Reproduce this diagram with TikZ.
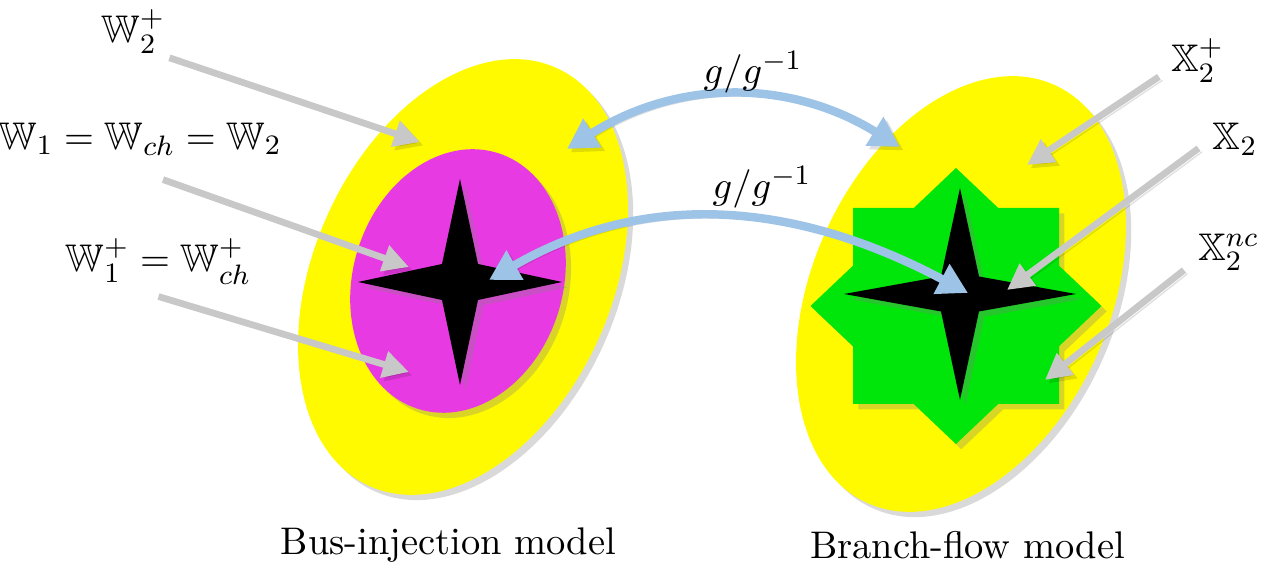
\documentclass[tikz,border=0pt,11pt]{standalone}
\usepackage{xcolor}
\usepackage{amssymb}
\usetikzlibrary{arrows.meta, calc, shapes.geometric, shadows}

\definecolor{setYellow}{RGB}{255,250,0}
\definecolor{setMagenta}{RGB}{232,58,226}
\definecolor{setGreen}{RGB}{0,230,10}
\definecolor{mapBlue}{RGB}{157,195,230}
\definecolor{pointGray}{RGB}{200,200,200}

\begin{document}
\begin{tikzpicture}[>={Triangle[length=3mm, width=3.2mm]}, every node/.style={inner sep=1pt},
  region/.style={drop shadow={shadow xshift=1.5pt, shadow yshift=-1.5pt, opacity=0.3}},
  oval/.style={ellipse, region, inner sep=0pt, minimum width=#1},
  pointer/.style={-{Triangle[length=2.6mm, width=2.6mm]}, draw=pointGray, line width=1.9pt,
    preaction={draw=black, opacity=0.12, transform canvas={xshift=1pt, yshift=-1pt}}},
  mapping/.style={<->, draw=mapBlue, line width=2.4pt,
    preaction={draw=black, opacity=0.12, transform canvas={xshift=1pt, yshift=-1pt}}}]
  \useasboundingbox (0,0) rectangle (12.63,5.63);
  \node[oval=2.98cm, minimum height=4.58cm, fill=setYellow, rotate=-24] (busOuter) at (4.63,2.86) {};
  \node[oval=2.10cm, minimum height=2.68cm, fill=setMagenta, rotate=-17] (busInner) at (4.58,2.82) {};
  \fill[black, region, shift={(4.60,2.81)}] (0,1.03) -- (0.18,0.18) -- (1.02,0) -- (0.18,-0.18) -- (0,-1.03) -- (-0.18,-0.18) -- (-1.02,0) -- (-0.18,0.18) -- cycle;
  \node[oval=2.98cm, minimum height=4.58cm, fill=setYellow, rotate=-24] (flowOuter) at (9.61,2.69) {};
  \fill[setGreen, region, shift={(9.56,2.57)}] (-1.03,-0.98) -- (-1.03,0.98) -- (1.03,0.98) -- (1.03,-0.98) -- cycle (-1.455,0) -- (0,1.38) -- (1.455,0) -- (0,-1.38) -- cycle;
  \fill[black, region, shift={(9.60,2.69)}] (0,1.06) -- (0.19,0.175) -- (1.16,0) -- (0.19,-0.175) -- (0,-1.06) -- (-0.19,-0.175) -- (-1.16,0) -- (-0.19,0.175) -- cycle;

  \coordinate (tipW2p) at (4.20,4.21);
  \coordinate (tipW1) at (4.09,2.96);
  \coordinate (tipW1p) at (4.09,1.91);
  \coordinate (tipX2p) at (10.27,3.98);
  \coordinate (tipX2) at (10.07,2.73);
  \coordinate (tipX2nc) at (10.45,1.83);
  \coordinate (busSet) at (5.67,4.14);
  \coordinate (flowSet) at (9.00,4.16);
  \coordinate (busCore) at (4.89,2.83);
  \coordinate (flowCore) at (9.68,2.70);

  \node (lW2p) at (1.335,5.315) {$\mathbb{W}_2^+$};
  \node (lW1) at (1.40,4.24) {$\mathbb{W}_1=\mathbb{W}_{ch}=\mathbb{W}_2$};
  \node (lW1p) at (1.585,3.015) {$\mathbb{W}_1^+=\mathbb{W}_{ch}^+$};
  \node (lX2p) at (11.975,5.025) {$\mathbb{X}_2^+$};
  \node (lX2) at (12.35,4.24) {$\mathbb{X}_2$};
  \node (lX2nc) at (12.285,3.105) {$\mathbb{X}_2^{nc}$};

  \draw[pointer] (lW2p.south east) -- (tipW2p);
  \draw[pointer] ($(lW1.south)+(0.23,-0.2)$) -- (tipW1);
  \draw[pointer] ($(lW1p.south)+(0,-0.08)$) -- (tipW1p);
  \draw[pointer] ($(lX2p.south west)+(-0.08,0.1)$) -- (tipX2p);
  \draw[pointer] ($(lX2.south west)+(-0.1,0.11)$) -- (tipX2);
  \draw[pointer] ($(lX2nc.south west)+(-0.1,0.05)$) -- (tipX2nc);

  \draw[mapping] (busSet) to[bend left=32] (flowSet);
  \draw[mapping] (busCore) to[out=30, in=152] (flowCore);
  \node (gUpper) at (7.53,4.91) {$g/g^{-1}$};
  \node (gLower) at (7.62,3.76) {$g/g^{-1}$};

  \node[anchor=base] (busName) at (4.485,0.08) {Bus-injection model};
  \node[anchor=base] (flowName) at (9.675,0.045) {Branch-flow model};
\end{tikzpicture}
\end{document}
